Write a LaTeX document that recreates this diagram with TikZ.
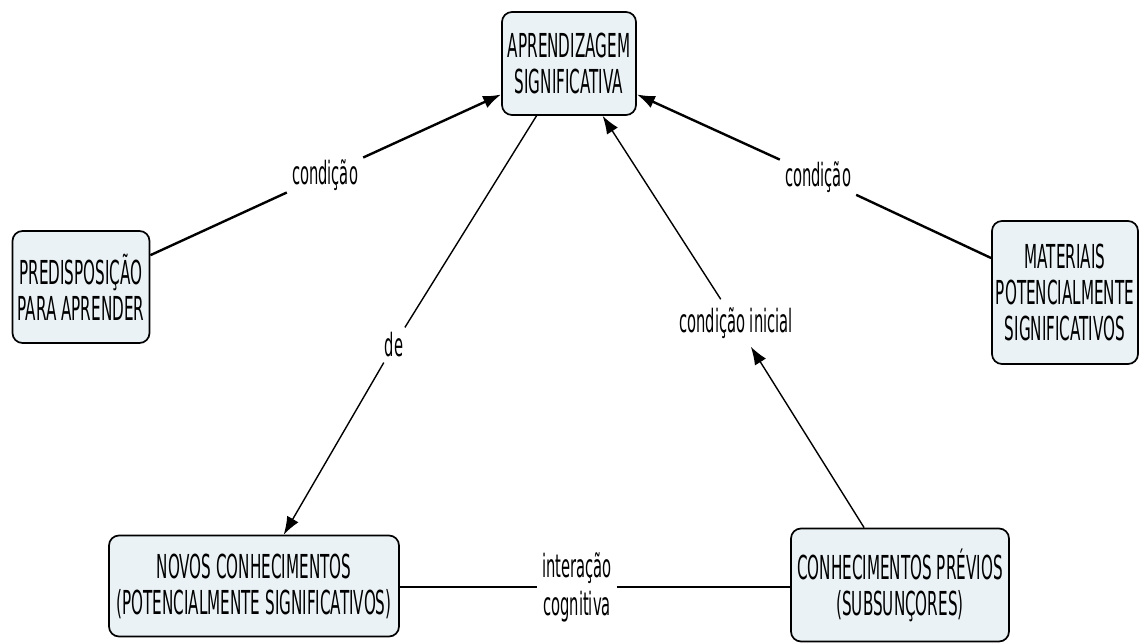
\documentclass[tikz,border=0pt]{standalone}
\usepackage{fontspec}
\setmainfont{DejaVu Sans}[FakeStretch=0.46]
\usetikzlibrary{arrows.meta}
\definecolor{boxfill}{RGB}{234,242,245}
\begin{document}
\begin{tikzpicture}[x=1pt,y=-1pt,
  concept/.style={draw=black, line width=1.7pt, fill=boxfill, rounded corners=10pt, align=center, inner sep=0pt, font=\fontsize{33}{36}\selectfont},
  lab/.style={align=center, inner sep=5pt, font=\fontsize{32}{38}\selectfont},
  heavy/.style={line width=2.4pt},
  light/.style={line width=1.4pt},
  tip/.style={-{Latex[length=18pt,width=13pt]}}]
\useasboundingbox (0,0) rectangle (1140,644);
% concepts
\node[concept, minimum width=134pt, minimum height=103pt] (apr) at (569,63.5) {APRENDIZAGEM\\SIGNIFICATIVA};
\node[concept, minimum width=137pt, minimum height=112pt] (pre) at (81,287) {PREDISPOSIÇÃO\\PARA APRENDER};
\node[concept, minimum width=146pt, minimum height=143pt] (mat) at (1065,292.5) {MATERIAIS\\POTENCIALMENTE\\SIGNIFICATIVOS};
\node[concept, minimum width=290pt, minimum height=101pt] (nov) at (254,586) {NOVOS CONHECIMENTOS\\(POTENCIALMENTE SIGNIFICATIVOS)};
\node[concept, minimum width=218pt, minimum height=113pt] (pre2) at (900,585) {CONHECIMENTOS PRÉVIOS\\(SUBSUNÇORES)};
% linking phrases
\node[lab] (c1) at (325,175) {condição};
\node[lab] (c2) at (818,177) {condição};
\node[lab] (de) at (394,345) {de};
\node[lab, inner sep=8pt] (ci) at (736,323) {condição inicial};
\node[lab] (ic) at (577,587) {interação\\cognitiva};
% connectors
\draw[heavy] (pre) -- (c1);
\draw[heavy, tip] (c1) -- (apr);
\draw[heavy] (mat) -- (c2);
\draw[heavy, tip] (c2) -- (apr);
\draw[light] (apr) -- (de);
\draw[light, tip] (de) -- (nov);
\draw[light, tip] (pre2) -- (ci);
\draw[light, tip] (ci) -- (apr);
\draw[heavy] (nov.east |- ic) -- (ic);
\draw[heavy] (ic) -- (pre2.west |- ic);
\end{tikzpicture}
\end{document}
